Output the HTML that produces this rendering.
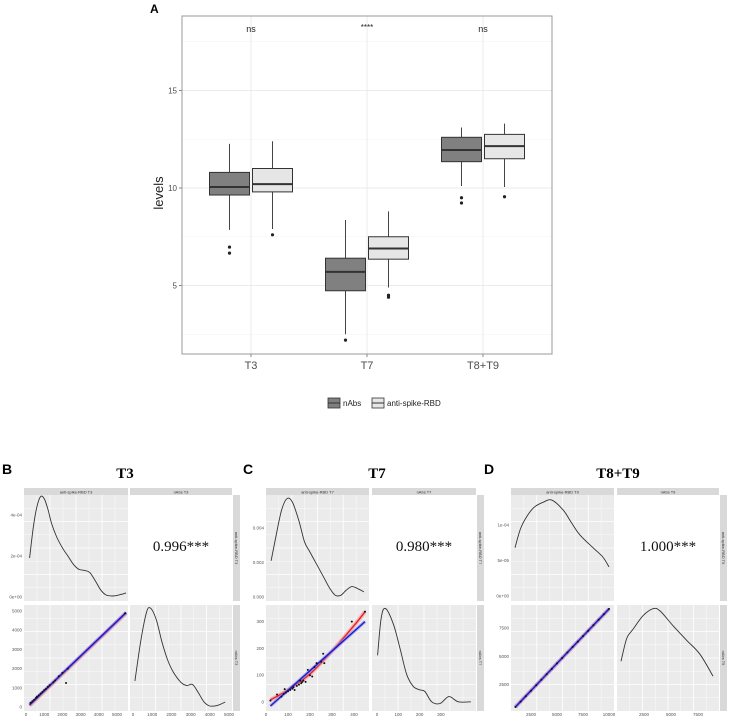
<!DOCTYPE html>
<html><head><meta charset="utf-8"><style>
html,body{margin:0;padding:0;background:#fff;}
svg{display:block;font-family:"Liberation Sans",sans-serif;}
</style></head><body>
<svg id="fig" width="730" height="720" viewBox="0 0 730 720" xmlns="http://www.w3.org/2000/svg"></svg>
<script>
// ---- Panel A data ----
const aCategories = ['T3','T7','T8+T9'];
const aSeries = ['nAbs','anti-spike-RBD'];
// [whiskerLow, Q1, median, Q3, whiskerHigh]
const aNabs = [[7.85,9.64,10.05,10.8,12.26],[2.5,4.73,5.7,6.4,8.36],[10.1,11.35,11.95,12.6,13.1]];
const aRbd  = [[7.9,9.8,10.2,11.0,12.4],[4.9,6.35,6.9,7.5,8.8],[10.05,11.5,12.15,12.75,13.3]];
const aNabsOut = [[6.97,6.66],[2.2],[9.5,9.23]];
const aRbdOut  = [[7.6],[4.5,4.4],[9.55]];
const aSig = ['ns','****','ns'];
const aYTicks = [5,10,15];

// ---- Panel B data (T3) ----
const bDensRbd = [[200,1.9],[400,3.4],[600,4.4],[800,4.9],[1000,4.8],[1200,4.3],[1400,3.6],[1700,2.9],[2000,2.4],[2300,2.0],[2600,1.6],[2900,1.35],[3200,1.3],[3500,1.2],[3800,0.8],[4100,0.35],[4400,0.1],[4800,0.05],[5200,0.12],[5500,0.2]];
const bDensNabs = [[100,1.27],[400,3.2],[700,4.6],[900,4.83],[1200,4.3],[1500,3.2],[1800,2.3],[2100,1.7],[2500,1.2],[2800,1.05],[3100,1.1],[3400,0.7],[3700,0.25],[4000,0.05],[4400,0.08],[4800,0.24]];
const bScatter = [[250,220],[350,300],[450,380],[550,470],[600,540],[700,610],[800,700],[900,780],[1000,880],[1100,950],[1200,1050],[1300,1130],[1500,1280],[1600,1380],[1800,1600],[2000,1780],[2200,1250],[2300,2000],[5450,4880]];
const bBlue = [[200,120],[5500,4920]];
const bRed = [[200,80],[5500,4890]];
const bXTicks = [0,1000,2000,3000,4000,5000];
const bYTicks = [0,1000,2000,3000,4000,5000];
const bDensTicks = ['0e+00','2e-04','4e-04'];

// ---- Panel C data (T7) ----
const cDensRbd = [[23,0.0021],[45,0.0035],[70,0.0050],[95,0.0057],[120,0.0055],[150,0.0044],[175,0.0032],[200,0.0026],[230,0.0019],[260,0.0012],[290,0.0005],[315,0.0001],[340,0.0001],[365,0.0004],[390,0.0006],[415,0.0005],[445,0.0003]];
const cDensNabs = [[3,0.0030],[20,0.0052],[41,0.0057],[77,0.0048],[108,0.0034],[139,0.0019],[170,0.0012],[200,0.0010],[225,0.0009],[257,0.0003],[296,0.0002],[338,0.0006],[382,0.0003],[441,0.0003]];
const cScatter = [[20,5],[50,28],[70,20],[80,30],[85,48],[90,35],[100,40],[110,45],[120,50],[125,55],[130,45],[140,60],[150,65],[155,80],[160,70],[165,75],[170,80],[180,75],[190,120],[200,100],[210,95],[220,130],[230,145],[250,150],[260,180],[265,145],[390,300],[450,337]];
const cBlue = [[20,-15],[450,300]];
const cRed = [[20,8],[100,45],[200,105],[300,190],[400,285],[450,337]];
const cXTicks = [0,100,200,300,400];
const cYTicks = [0,100,200,300];
const cDensTicks = ['0.000','0.002','0.004'];

// ---- Panel D data (T8+T9) ----
const dDensRbd = [[960,0.68],[1500,0.95],[2100,1.12],[2800,1.25],[3650,1.32],[4500,1.35],[5600,1.21],[6400,1.03],[7200,0.86],[8460,0.68],[9400,0.55],[10000,0.41]];
const dDensNabs = [[370,0.63],[900,0.95],[1480,1.08],[2400,1.27],[3330,1.37],[3980,1.34],[5190,1.13],[6480,0.92],[7680,0.73],[8890,0.42]];
const dScatter = [[1000,530],[1500,1010],[2000,1490],[2500,1970],[3000,2450],[3500,2940],[4000,3420],[4500,3900],[5000,4380],[5500,4860],[6000,5350],[6500,5830],[7000,6310],[7500,6790],[8000,7270],[8500,7750],[9000,8240],[9500,8720],[10000,9200]];
const dBlue = [[1000,530],[10000,9200]];
const dRed = [[1000,540],[10000,9190]];
const dXTicks = [2500,5000,7500,10000];
const dXTicksR = [2500,5000,7500];
const dYTicks = [2500,5000,7500];
const dDensTicks = ['0e+00','5e-05','1e-04'];

const NS='http://www.w3.org/2000/svg';
const svg=document.getElementById('fig');
function el(tag,attrs,parent,text){const e=document.createElementNS(NS,tag);for(const k in attrs)e.setAttribute(k,attrs[k]);if(text!==undefined)e.textContent=text;(parent||svg).appendChild(e);return e;}

// ===== Panel A =====
const gA=el('g',{});


const AL=182,AR=552,AT=16,AB=354;
const ay=v=>188-(v-10)*19.5;
const ax=i=>251+i*116;
el('rect',{x:AL,y:AT,width:AR-AL,height:AB-AT,fill:'#fff'},gA);
[2.5,7.5,12.5,17.5].forEach(v=>el('line',{x1:AL,x2:AR,y1:ay(v),y2:ay(v),stroke:'#f2f2f2','stroke-width':0.6},gA));
aYTicks.forEach(v=>{el('line',{x1:AL,x2:AR,y1:ay(v),y2:ay(v),stroke:'#ebebeb','stroke-width':1},gA);
 el('line',{x1:AL-3,x2:AL,y1:ay(v),y2:ay(v),stroke:'#333','stroke-width':0.6},gA);
 const t=el('text',{x:AL-5,y:ay(v)+3,'text-anchor':'end','font-size':8,fill:'#4d4d4d'},gA,String(v));
 });
aCategories.forEach((c,i)=>{el('line',{x1:ax(i),x2:ax(i),y1:AT,y2:AB,stroke:'#ebebeb','stroke-width':1},gA);
 el('line',{x1:ax(i),x2:ax(i),y1:AB,y2:AB+3,stroke:'#333','stroke-width':0.6},gA);
 const t=el('text',{x:ax(i),y:AB+15,'text-anchor':'middle','font-size':11,fill:'#4d4d4d'},gA,c);
 
 const s=el('text',{x:ax(i),y:aSig[i]==='ns'?32:30,'text-anchor':'middle','font-size':aSig[i]==='ns'?9:8,fill:'#222'},gA,aSig[i]);
 });
function box(i,off,d,outs,fill,name){
 const cx=ax(i)+off,w=40;
 const g=el('g',{},gA);
 el('line',{x1:cx,x2:cx,y1:ay(d[0]),y2:ay(d[1]),stroke:'#444','stroke-width':1},g);
 el('line',{x1:cx,x2:cx,y1:ay(d[3]),y2:ay(d[4]),stroke:'#444','stroke-width':1},g);
 el('rect',{x:cx-w/2,y:ay(d[3]),width:w,height:ay(d[1])-ay(d[3]),fill:fill,stroke:'#333','stroke-width':1},g);
 el('line',{x1:cx-w/2,x2:cx+w/2,y1:ay(d[2]),y2:ay(d[2]),stroke:'#333','stroke-width':2},g);
 outs.forEach(o=>el('circle',{cx:cx,cy:ay(o),r:1.6,fill:'#222'},g));
}
aCategories.forEach((c,i)=>{box(i,-21.5,aNabs[i],aNabsOut[i],'#808080','box-nabs-'+c);box(i,21.5,aRbd[i],aRbdOut[i],'#e6e6e6','box-rbd-'+c);});
el('rect',{x:AL,y:AT,width:AR-AL,height:AB-AT,fill:'none',stroke:'#999','stroke-width':1},gA);
let t=el('text',{x:158,y:188,'text-anchor':'middle','font-size':13,fill:'#222',transform:'rotate(-90 163 188)'},gA,'levels');

t=el('text',{x:150,y:13,'font-size':12,'font-weight':'bold',fill:'#000'},gA,'A');

// legend
const lg=el('g',{},gA);
[['#808080',328,'nAbs'],['#e6e6e6',372,'anti-spike-RBD']].forEach(([f,x,lab])=>{
 const e=el('g',{},lg);
 el('rect',{x:x,y:398,width:12,height:10,fill:f,stroke:'#333','stroke-width':0.8},e);
 el('line',{x1:x,x2:x+12,y1:403,y2:403,stroke:'#333','stroke-width':1},e);
 el('text',{x:x+15,y:406,'font-size':8,fill:'#222'},e,lab);});

// smooth path (Catmull-Rom)
function smooth(pts){
 let d='M'+pts[0][0].toFixed(1)+' '+pts[0][1].toFixed(1);
 for(let i=0;i<pts.length-1;i++){
  const p0=pts[Math.max(i-1,0)],p1=pts[i],p2=pts[i+1],p3=pts[Math.min(i+2,pts.length-1)];
  const c1x=p1[0]+(p2[0]-p0[0])/6,c1y=p1[1]+(p2[1]-p0[1])/6,c2x=p2[0]-(p3[0]-p1[0])/6,c2y=p2[1]-(p3[1]-p1[1])/6;
  d+=` C${c1x.toFixed(1)} ${c1y.toFixed(1)} ${c2x.toFixed(1)} ${c2y.toFixed(1)} ${p2[0].toFixed(1)} ${p2[1].toFixed(1)}`;
 }
 return d;
}

// ===== Lower panels =====
function panel(cfg){
 const g=el('g',{});
 const T1=495,B1=601,T2=605,B2=711;
 let tt=el('text',{x:cfg.letterX,y:474,'font-size':14,'font-weight':'bold',fill:'#000'},g,cfg.letter);
 
 tt=el('text',{x:cfg.titleX,y:478,'text-anchor':'middle','font-size':15,'font-weight':'bold','font-family':'Liberation Serif, serif',fill:'#000'},g,cfg.title);
 
 el('rect',{x:cfg.L1,y:488,width:cfg.R1-cfg.L1,height:7,fill:'#d9d9d9'},g);
 el('rect',{x:cfg.L2,y:488,width:cfg.R2-cfg.L2,height:7,fill:'#d9d9d9'},g);
 el('text',{x:(cfg.L1+cfg.R1)/2,y:493.5,'text-anchor':'middle','font-size':4,fill:'#333'},g,cfg.s1);
 el('text',{x:(cfg.L2+cfg.R2)/2,y:493.5,'text-anchor':'middle','font-size':4,fill:'#333'},g,cfg.s2);
 el('rect',{x:cfg.R2+1,y:T1,width:7,height:B1-T1,fill:'#d9d9d9'},g);
 el('rect',{x:cfg.R2+1,y:T2,width:7,height:B2-T2,fill:'#d9d9d9'},g);
 el('text',{x:cfg.R2+3,y:(T1+B1)/2,'text-anchor':'middle','font-size':4,fill:'#333',transform:`rotate(90 ${cfg.R2+3} ${(T1+B1)/2})`},g,cfg.s1);
 el('text',{x:cfg.R2+3,y:(T2+B2)/2,'text-anchor':'middle','font-size':4,fill:'#333',transform:`rotate(90 ${cfg.R2+3} ${(T2+B2)/2})`},g,cfg.s2);
 function cell(x0,x1,y0,y1,gray){el('rect',{x:x0,y:y0,width:x1-x0,height:y1-y0,fill:gray?'#ebebeb':'#fff'},g);
  if(!gray)return; const n=8;for(let k=1;k<n;k++){const xx=x0+(x1-x0)*k/n,yy=y0+(y1-y0)*k/n;
   el('line',{x1:xx,x2:xx,y1:y0,y2:y1,stroke:'#fff','stroke-width':k%2?0.4:0.8},g);
   el('line',{x1:x0,x2:x1,y1:yy,y2:yy,stroke:'#fff','stroke-width':k%2?0.4:0.8},g);}}
 cell(cfg.L1,cfg.R1,T1,B1,true);cell(cfg.L2,cfg.R2,T1,B1,false);cell(cfg.L1,cfg.R1,T2,B2,true);cell(cfg.L2,cfg.R2,T2,B2,true);
 const xL=v=>cfg.x0L+v*cfg.kxL, xR=v=>cfg.x0R+v*cfg.kxR;
 const dT=v=>cfg.d0T-v*cfg.kd, dB=v=>cfg.d0T+110-v*cfg.kdB, yS=v=>cfg.y0S-v*cfg.kyS;
 const map=(pts,fx,fy)=>pts.map(p=>[fx(p[0]),fy(p[1])]);
 let p=el('path',{d:smooth(map(cfg.densL,xL,dT)),fill:'none',stroke:'#333','stroke-width':0.9},g);
 
 p=el('path',{d:smooth(map(cfg.densR,xR,dB)),fill:'none',stroke:'#333','stroke-width':0.9},g);
 
 el('path',{d:smooth(map(cfg.red,xL,yS)),fill:'none',stroke:'#f4a0a0','stroke-width':4,opacity:0.7},g);
 p=el('path',{d:smooth(map(cfg.red,xL,yS)),fill:'none',stroke:'#e8202a','stroke-width':1.4},g);
 
 el('path',{d:smooth(map(cfg.blue,xL,yS)),fill:'none',stroke:'#8a8af0','stroke-width':3.5,opacity:0.6},g);
 p=el('path',{d:smooth(map(cfg.blue,xL,yS)),fill:'none',stroke:'#1a1acc','stroke-width':1.4},g);
 
 cfg.scatter.forEach(s=>{const c=el('circle',{cx:xL(s[0]),cy:yS(s[1]),r:1,fill:'#111'},g);
  });
 const tick=(x,y,txt,anchor)=>el('text',{x:x,y:y,'text-anchor':anchor,'font-size':4.5,fill:'#555'},g,txt);
 cfg.xt.forEach(v=>tick(xL(v),716,String(v),'middle'));
 cfg.xtR.forEach(v=>tick(xR(v),716,String(v),'middle'));
 cfg.yt.forEach(v=>tick(cfg.L1-2,yS(v)+1.5,String(v),'end'));
 cfg.dt.forEach((s,i)=>tick(cfg.L1-2,cfg.d0T-i*cfg.dtStep+1.5,s,'end'));
 const r=el('text',{x:(cfg.L2+cfg.R2)/2,y:551,'text-anchor':'middle','font-size':15,'font-family':'Liberation Serif, serif',fill:'#111'},g,cfg.corr);
 
}
panel({name:'panel-b-t3',letter:'B',letterX:2,title:'T3',titleX:125,L1:24,R1:128,L2:130,R2:232,
 s1:'anti-spike-RBD T3',s2:'nAbs T3',x0L:26,kxL:0.0182,x0R:133,kxR:0.0192,d0T:597,kd:20.5,kdB:20.5,
 y0S:707,kyS:0.0192,densL:bDensRbd,densR:bDensNabs,scatter:bScatter,blue:bBlue,red:bRed,
 xt:bXTicks,xtR:bXTicks,yt:bYTicks,dt:bDensTicks,dtStep:41,corr:'0.996***'});
panel({name:'panel-c-t7',letter:'C',letterX:243,title:'T7',titleX:377,L1:266,R1:369,L2:372,R2:476,
 s1:'anti-spike-RBD T7',s2:'nAbs T7',x0L:266,kxL:0.22,x0R:377,kxR:0.213,d0T:597,kd:17250,kdB:17250,
 y0S:702,kyS:0.268,densL:cDensRbd,densR:cDensNabs,scatter:cScatter,blue:cBlue,red:cRed,
 xt:cXTicks,xtR:[0,100,200,300],yt:cYTicks,dt:cDensTicks,dtStep:34.5,corr:'0.980***'});
panel({name:'panel-d-t8-t9',letter:'D',letterX:484,title:'T8+T9',titleX:618,L1:511,R1:614,L2:617,R2:719,
 s1:'anti-spike-RBD T9',s2:'nAbs T9',x0L:505,kxL:0.0104,x0R:617,kxR:0.0108,d0T:596,kd:71,kdB:71,
 y0S:713,kyS:0.01132,densL:dDensRbd,densR:dDensNabs,scatter:dScatter,blue:dBlue,red:dRed,
 xt:dXTicks,xtR:dXTicksR,yt:dYTicks,dt:dDensTicks,dtStep:35.5,corr:'1.000***'});
</script>
</body></html>
